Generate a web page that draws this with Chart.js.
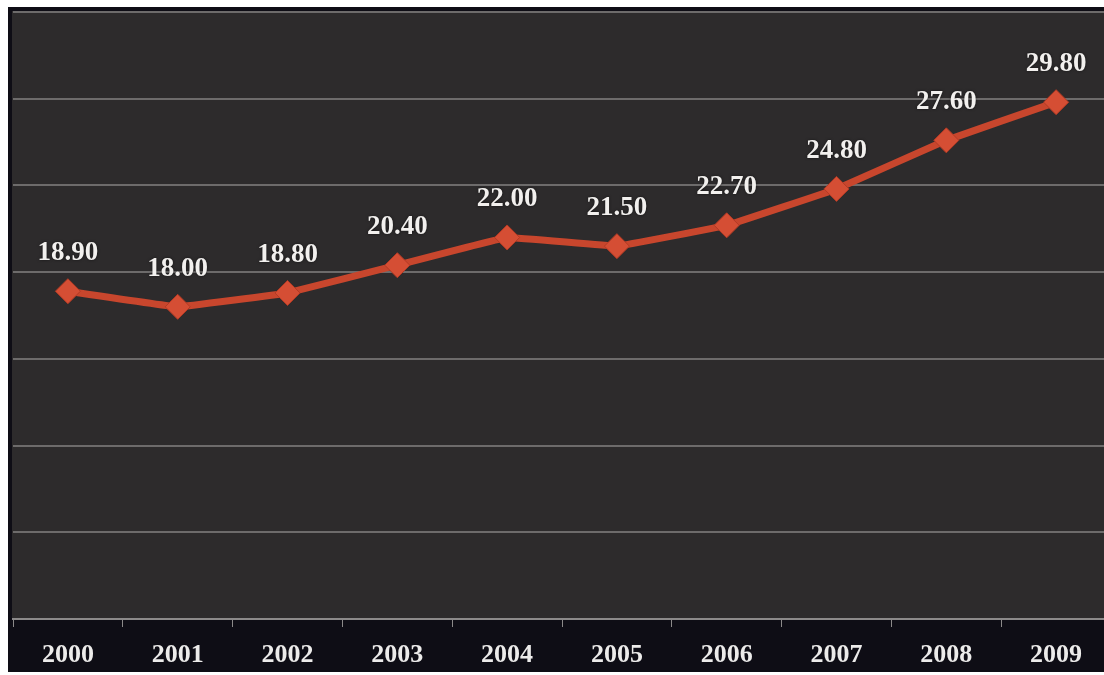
<!DOCTYPE html>
<html>
<head>
<meta charset="utf-8">
<script src="https://cdn.jsdelivr.net/npm/chart.js@4/dist/chart.umd.min.js"></script>
<style>
  html, body { margin: 0; padding: 0; background: #ffffff; overflow: hidden; width: 1104px; height: 675px; }
  #marco { position: absolute; left: 8px; top: 7px; width: 1108px; height: 665px; background: #0e0d15; }
  #grafico { display: block; }
</style>
</head>
<body>
<div id="marco"><canvas id="grafico" width="1108" height="665"></canvas></div>
<script>
// Años y valores de la serie
const anios = ['2000', '2001', '2002', '2003', '2004', '2005', '2006', '2007', '2008', '2009'];
const valores = [18.90, 18.00, 18.80, 20.40, 22.00, 21.50, 22.70, 24.80, 27.60, 29.80];
// Líneas horizontales del eje Y
const marcasY = [0, 5, 10, 15, 20, 25, 30, 35];

const fuenteSerif = '"Liberation Serif", "DejaVu Serif", serif';

// Fondo: franja oscura inferior y área de trazado gris
const fondo = {
  id: 'fondo',
  beforeDraw(chart) {
    const ctx = chart.ctx;
    const a = chart.chartArea;
    ctx.save();
    ctx.fillStyle = '#0e0d15';
    ctx.fillRect(0, 0, chart.width, chart.height);
    ctx.fillStyle = '#2d2b2c';
    ctx.fillRect(a.left - 1, a.top - 1, a.right - a.left + 10, a.bottom - a.top + 1);
    ctx.restore();
  }
};

// Etiquetas con el valor encima de cada punto
const etiquetas = {
  id: 'etiquetas',
  afterDatasetsDraw(chart) {
    const ctx = chart.ctx;
    const puntos = chart.getDatasetMeta(0).data;
    ctx.save();
    ctx.font = 'bold 27px ' + fuenteSerif;
    ctx.fillStyle = '#f2f0ee';
    ctx.textAlign = 'center';
    ctx.textBaseline = 'middle';
    ctx.shadowColor = 'rgba(0,0,0,0.6)';
    ctx.shadowBlur = 3;
    puntos.forEach((p, i) => {
      ctx.fillText(valores[i].toFixed(2), p.x, p.y - 38);
    });
    ctx.restore();
  }
};

new Chart(document.getElementById('grafico'), {
  type: 'line',
  data: {
    labels: anios,
    datasets: [{
      data: valores,
      borderColor: '#c8462d',
      borderWidth: 7,
      pointStyle: 'rectRot',
      pointRadius: 12.5,
      pointBackgroundColor: '#d54e34',
      pointBorderColor: '#b33a24',
      pointBorderWidth: 1,
      tension: 0.05,
      clip: false
    }]
  },
  options: {
    responsive: false,
    animation: false,
    layout: { autoPadding: false, padding: { left: 5, right: 5, top: 5, bottom: 0 } },
    plugins: { legend: { display: false }, tooltip: { enabled: false } },
    scales: {
      x: {
        offset: true,
        border: { color: '#8c8a8a', width: 2 },
        grid: { offset: true, drawOnChartArea: false, drawTicks: true, tickLength: 8, color: '#8c8a8a', lineWidth: 1 },
        ticks: {
          color: '#ecebea',
          padding: 13,
          font: { family: fuenteSerif, size: 26, weight: 'bold' }
        },
        afterFit(scale) { scale.height = 53; }
      },
      y: {
        min: 0,
        max: 35,
        afterBuildTicks(scale) { scale.ticks = marcasY.map(v => ({ value: v })); },
        border: { display: false },
        grid: { color: '#6d6b6b', lineWidth: 2, drawTicks: false },
        ticks: { display: false },
        afterFit(scale) { scale.width = 0; }
      }
    }
  },
  plugins: [fondo, etiquetas]
});
</script>
</body>
</html>
